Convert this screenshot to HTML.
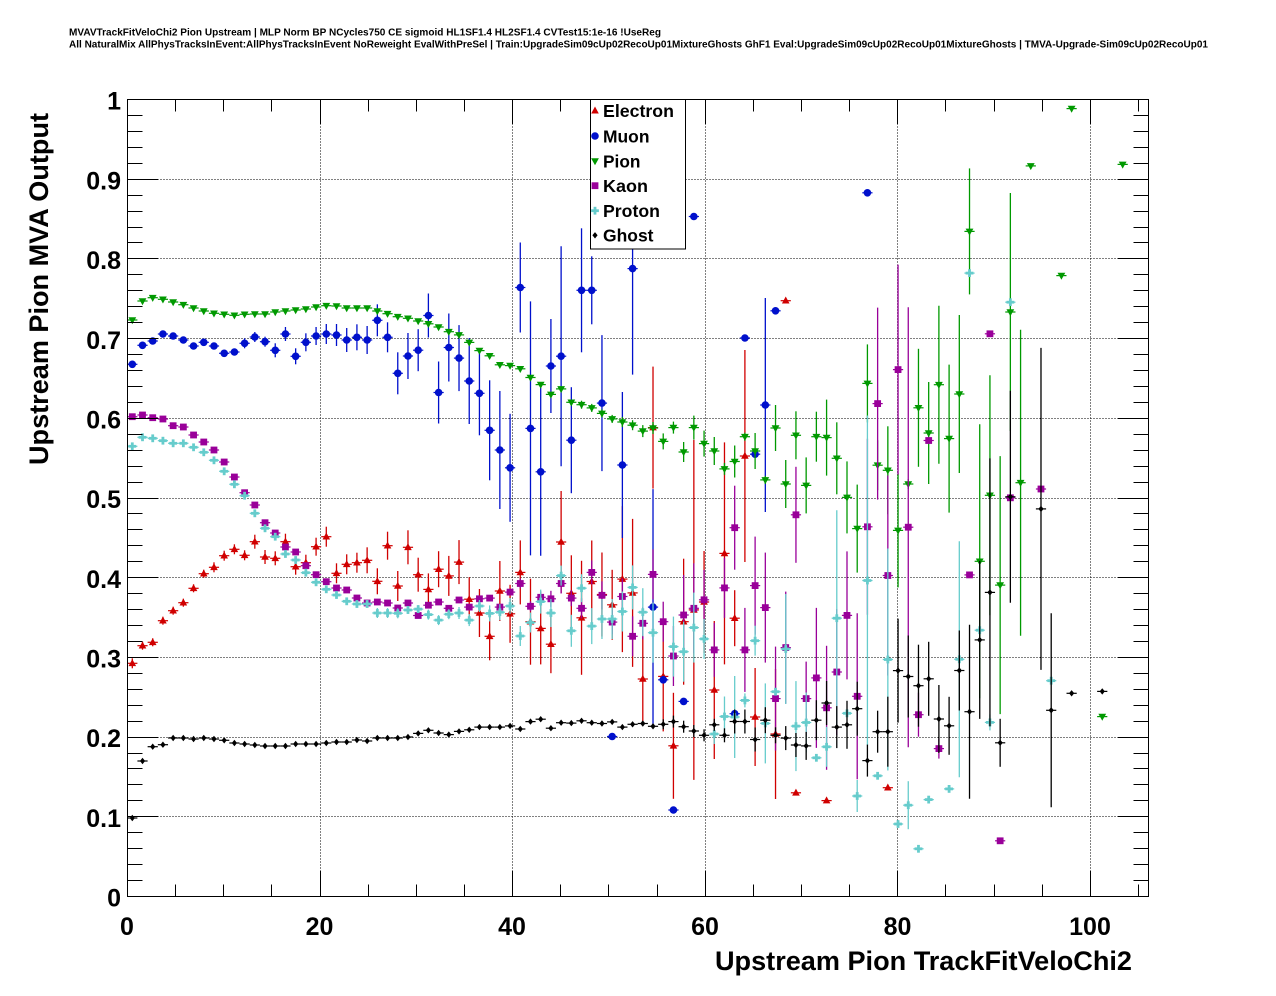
<!DOCTYPE html>
<html><head><meta charset="utf-8">
<style>
html,body{margin:0;padding:0;background:#fff;}
svg{display:block;font-family:"Liberation Sans",Arial,Helvetica,sans-serif;font-weight:bold;}
</style>
</head><body>
<svg id="c" width="1276" height="996" viewBox="0 0 1276 996" xmlns="http://www.w3.org/2000/svg">
<rect x="0" y="0" width="1276" height="996" fill="#fff"/>
<text x="69" y="35.5" font-size="10" textLength="592" lengthAdjust="spacingAndGlyphs">MVAVTrackFitVeloChi2 Pion Upstream | MLP Norm BP NCycles750 CE sigmoid HL1SF1.4 HL2SF1.4 CVTest15:1e-16 !UseReg</text>
<text x="69" y="47.5" font-size="10" textLength="1139" lengthAdjust="spacingAndGlyphs">All NaturalMix AllPhysTracksInEvent:AllPhysTracksInEvent NoReweight EvalWithPreSel | Train:UpgradeSim09cUp02RecoUp01MixtureGhosts GhF1 Eval:UpgradeSim09cUp02RecoUp01MixtureGhosts | TMVA-Upgrade-Sim09cUp02RecoUp01</text>
<g id="grid"></g>
<g id="data"></g>
<g id="axes"></g>
<g font-size="25" text-anchor="end">
<text x="121" y="109.5">1</text>
<text x="121" y="189.5">0.9</text>
<text x="121" y="269">0.8</text>
<text x="121" y="349">0.7</text>
<text x="121" y="428.5">0.6</text>
<text x="121" y="508">0.5</text>
<text x="121" y="588">0.4</text>
<text x="121" y="667.5">0.3</text>
<text x="121" y="747">0.2</text>
<text x="121" y="827">0.1</text>
<text x="121" y="906.5">0</text>
</g>
<g font-size="25" text-anchor="middle">
<text x="127" y="935">0</text>
<text x="319.5" y="935">20</text>
<text x="512" y="935">40</text>
<text x="705" y="935">60</text>
<text x="897.5" y="935">80</text>
<text x="1090" y="935">100</text>
</g>
<text x="1132" y="970" font-size="27" text-anchor="end" textLength="417" lengthAdjust="spacingAndGlyphs">Upstream Pion TrackFitVeloChi2</text>
<text transform="translate(48,113) rotate(-90)" font-size="27" text-anchor="end" textLength="352" lengthAdjust="spacingAndGlyphs">Upstream Pion MVA Output</text>
<g id="legend">
<rect x="590.5" y="99.5" width="95" height="149.5" fill="#fff" stroke="#000" stroke-width="1"/>
<g font-size="17.5">
<text x="603" y="117" textLength="71" lengthAdjust="spacingAndGlyphs">Electron</text>
<text x="603" y="142.3" textLength="46.5" lengthAdjust="spacingAndGlyphs">Muon</text>
<text x="603" y="167.3" textLength="37.5" lengthAdjust="spacingAndGlyphs">Pion</text>
<text x="603" y="192" textLength="45" lengthAdjust="spacingAndGlyphs">Kaon</text>
<text x="603" y="217" textLength="57" lengthAdjust="spacingAndGlyphs">Proton</text>
<text x="603" y="241.7" textLength="50.5" lengthAdjust="spacingAndGlyphs">Ghost</text>
</g>
<g id="legm"></g>
</g>
</svg>
<script>
(function(){
var NS='http://www.w3.org/2000/svg';
function el(t,a,p){var e=document.createElementNS(NS,t);for(var k in a)e.setAttribute(k,a[k]);p.appendChild(e);return e;}
var X0=127.5,XS=9.628,Y0=896.5,YS=797,XL=127.5,XR=1148.5,YT=99.5,YB=896.5;
function px(v){return X0+v*XS;}
function py(v){return Y0-v*YS;}
function r5(v){return Math.round(v-0.5)+0.5;}
var g=document.getElementById('grid');
var dot={stroke:'#000','stroke-width':1,'stroke-dasharray':'1,2',fill:'none'};
function ext(a,b){var o={};for(var k in a)o[k]=a[k];for(var k2 in b)o[k2]=b[k2];return o;}
for(var v=20;v<=100;v+=20){var x=r5(px(v));el('line',ext(dot,{x1:x,x2:x,y1:YT,y2:YB}),g);}
for(var k=1;k<=9;k++){var y=r5(py(k/10));el('line',ext(dot,{x1:XL,x2:XR,y1:y,y2:y}),g);}
var ax=document.getElementById('axes');
var sl={stroke:'#000','stroke-width':1};
for(var k=0;k<=50;k++){var y=r5(py(k*0.02));var L=(k%5==0)?31:15;
 el('line',ext(sl,{x1:XL,x2:XL+L,y1:y,y2:y}),ax);
 el('line',ext(sl,{x1:XR,x2:XR-L,y1:y,y2:y}),ax);}
for(var k=0;k*5<=106;k++){var x=r5(px(k*5));var L=(k%4==0)?25:12;
 el('line',ext(sl,{x1:x,x2:x,y1:YB,y2:YB-L}),ax);
 el('line',ext(sl,{x1:x,x2:x,y1:YT,y2:YT+L}),ax);}
el('rect',{x:XL,y:YT,width:XR-XL,height:YB-YT,fill:'none',stroke:'#000','stroke-width':1},ax);

function xi(i){return 132.3+10.21*i;}
function marker(type,x,y,c,p){
 if(type=='tu'){el('polygon',{points:(x)+','+(y-4.2)+' '+(x-3.8)+','+(y+2.8)+' '+(x+3.8)+','+(y+2.8),fill:c},p);}
 else if(type=='td'){el('polygon',{points:(x)+','+(y+4.2)+' '+(x-3.9)+','+(y-2.8)+' '+(x+3.9)+','+(y-2.8),fill:c},p);}
 else if(type=='c'){el('circle',{cx:x,cy:y,r:3.8,fill:c},p);}
 else if(type=='s'){el('rect',{x:x-3.4,y:y-3.4,width:6.8,height:6.8,fill:c},p);}
 else if(type=='x'){el('rect',{x:x-3.9,y:y-1.4,width:7.8,height:2.8,fill:c},p);el('rect',{x:x-1.4,y:y-3.9,width:2.8,height:7.8,fill:c},p);}
 else if(type=='d'){el('polygon',{points:x+','+(y-3.2)+' '+(x+2.6)+','+y+' '+x+','+(y+3.2)+' '+(x-2.6)+','+y,fill:c},p);}
}
var series=[
{t:'tu',c:'#d00000',d:[[0,663.3,5],[1,645.7,4],[2,642.3,4],[3,620.7,4],[4,610.7,4],[5,602.7,4],[6,588.3,4],[7,573.7,4],[8,567.3,5],[9,555.7,5],[10,549.3,5],[11,555.3,5],[12,541.7,7],[13,557,7],[14,558.3,7],[15,541.7,8],[16,566.7,8],[17,562.7,8],[18,546.7,9],[19,536.7,10],[20,573.3,10],[21,564.3,10],[22,562.7,10],[23,560.3,13],[24,581.3,13],[25,545.7,14],[26,586,15],[27,547.3,17],[28,574.7,17],[29,589.4,16],[30,569.2,18],[31,575.9,20],[32,562.1,22],[33,599.2,22],[34,613,24],[35,636.3,24],[36,591,30],[37,613.8,29],[38,572.4,32],[39,621.7,43],[40,628.4,36],[41,644.2,29],[42,542,51],[43,593.3,38],[44,617.8,57],[45,581.5,41],[46,594.5,42],[47,604.8,35],[48,579.1,73],[49,592.9,74],[50,679,44],[51,427.6,61],[52,676.4,55],[53,745.8,53],[54,621.7,63],[55,609.9,170],[56,602,51],[57,690,69],[58,553.4,111],[59,618.2,28],[60,456,106],[61,717,49],[63,734,65],[64,300.7,0],[65,792.8,0],[68,800.6,0],[74,787.7,0]]},
{t:'c',c:'#0010cc',d:[[0,364.3,3],[1,345.3,0],[2,341,0],[3,334,0],[4,336,0],[5,340,0],[6,346,0],[7,342.3,0],[8,346,0],[9,353.3,0],[10,352,0],[11,343.3,5],[12,337,5],[13,341.7,5],[14,350.3,7],[15,334,7],[16,356.3,8],[17,342.3,9],[18,336,9],[19,334,10],[20,335,11],[21,340,12],[22,337.3,13],[23,340,14],[24,320.3,16],[25,337.3,15],[26,373.3,21],[27,356,23],[28,350.2,21],[29,315.5,22],[30,392.5,31],[31,347.5,34],[32,358.1,33],[33,381,43],[34,393.3,42],[35,430.3,50],[36,450,59],[37,467.8,54],[38,287.5,45],[39,428.4,127],[40,471.8,84],[41,366,47],[42,356.2,110],[43,440.2,53],[44,290.3,62],[45,290.3,34],[46,403.1,68],[47,736.5,0],[48,465,73],[49,268.6,106],[51,607.1,118],[52,679.8,0],[53,810,0],[54,701.4,0],[55,216.5,0],[59,713.7,0],[60,338,0],[61,454.2,0],[62,405,107],[63,310.8,0],[72,192.8,0]]},
{t:'td',c:'#009900',d:[[0,320],[1,301],[2,297.7],[3,299.3],[4,302],[5,304.7],[6,308],[7,311],[8,313.3],[9,314.3],[10,315.3],[11,314.3],[12,314],[13,314],[14,312],[15,311],[16,310],[17,309],[18,307],[19,305.7],[20,306],[21,308],[22,308],[23,308],[24,311],[25,313.7],[26,316.7],[27,318.3],[28,321],[29,323.8],[30,327],[31,331.7],[32,334.9],[33,342.4],[34,350.6],[35,355.8],[36,364.8],[37,365.6],[38,368.8],[39,377.5],[40,384.6],[41,394.4],[42,388.9],[43,402.3,3],[44,404.7,4],[45,407.9,4],[46,413.4,4],[47,418.9,4],[48,422,5],[49,425.2,5],[50,431.1,6],[51,428,6],[52,441.4,8],[53,427.6,6],[54,452,10],[55,427.6,12],[56,443.6,13],[57,451,14],[58,468.9,6],[59,461.5,16],[60,436.7,4],[61,451,18],[62,479.9,4],[63,428,23],[64,484,24],[65,435.3,24],[66,485.4,28],[67,436.7,25],[68,437.6,38],[69,458.3,36],[70,497.4,36],[71,528.6,44],[72,383.4,39],[73,465.2,25],[74,470.3,44],[75,530.4,57],[76,484,5],[77,407.8,59],[78,433,51],[79,384.7,79],[80,438.6,74],[81,394,79],[82,231.4,63],[83,561.3,137],[84,495.3,120],[85,585.1,129],[86,312,119],[87,482.7,153],[88,165.9,0],[91,275.6,0],[92,108.6,0],[95,716.6,0],[97,164.4,0]]},
{t:'s',c:'#990099',d:[[0,416.7],[1,415],[2,417.7],[3,419],[4,425.7],[5,427],[6,435],[7,442],[8,450],[9,462],[10,477],[11,492.7],[12,505],[13,522.7],[14,533],[15,547],[16,552],[17,565.7],[18,574.7],[19,581.7],[20,588],[21,590],[22,598],[23,603],[24,602],[25,603],[26,608],[27,603],[28,615.5],[29,605.2],[30,602],[31,608.3],[32,600],[33,607.1],[34,598.8],[35,598.1],[36,607.1],[37,592.1],[38,583.5,5],[39,606.3,5],[40,597.3,6],[41,598.8,8],[42,583.5,10],[43,598.1,8],[44,608.3,10],[45,572.4,12],[46,595.3,14],[47,622.1,12],[48,596.5,18],[49,636.3,20],[50,623.3,16],[51,574.4,25],[52,621.7,20],[53,656,30],[54,615,40],[55,608.3,45],[56,599.8,30],[57,649.9,27],[58,587.9,30],[59,527.7,42],[60,649.9,42],[61,585.6,49],[62,607.6,55],[63,698.6,52],[64,647.6,56],[65,514.8,48],[66,698.6,37],[67,677.9,70],[68,707.8,62],[69,672,63],[70,615.4,64],[71,696.3,83],[72,526.8,88],[73,403.6,96],[74,575.5,100],[75,369.6,105],[76,527.2,220],[77,714.7,22],[78,440.5,0],[79,748.6,10],[82,574.9,0],[84,333.8,0],[85,840.8,0],[86,497.8,0],[89,489,0]]},
{t:'x',c:'#66cccc',d:[[0,446.3],[1,437.3],[2,438.3],[3,440.7],[4,443.3],[5,443.3],[6,447.3],[7,452.3],[8,460.3],[9,471.3],[10,484.3],[11,495.7],[12,513.3],[13,528.3],[14,536.7],[15,554],[16,560],[17,572.7],[18,582.3],[19,589.3],[20,595],[21,601.3],[22,604],[23,604],[24,613,5],[25,613,5],[26,613.3,5],[27,610,4],[28,609.1,4],[29,614.6,5],[30,620.1,5],[31,614.2,5],[32,613,6],[33,620.1,6],[34,606,6],[35,613.4,8],[36,612.2,8],[37,606,8],[38,636,10],[39,622.5,10],[40,601.6,12],[41,613,14],[42,575.6,10],[43,630.8,16],[44,588.2,14],[45,626.1,18],[46,619,20],[47,619,20],[48,611.5,20],[49,587.4,22],[50,612.2,24],[51,632.7,30],[53,646.6,30],[54,651.7,30],[55,627.6,35],[56,638.9,20],[57,734,10],[58,716.5,20],[59,717,41],[60,700.4,7],[61,640.7,15],[62,723.4,40],[63,691.7,0],[64,649,55],[65,726.1,45],[66,722.5,30],[67,757.8,0],[68,746.8,20],[69,618.2,108],[70,713.3,0],[71,796,16],[72,580.5,165],[73,775.8,0],[74,659.5,111],[75,824,0],[76,805.2,24],[77,848.8,0],[78,799.6,0],[80,788.9,0],[81,659.3,118],[82,273.1,0],[83,630.2,0],[84,722.4,8],[86,302.2,0],[90,680.7,0]]},
{t:'d',c:'#000000',d:[[0,818],[1,761],[2,746.7],[3,744.7],[4,738],[5,738],[6,739],[7,738],[8,739],[9,740.3],[10,743],[11,744],[12,745],[13,746],[14,746],[15,746],[16,744],[17,744],[18,744],[19,743],[20,742],[21,742],[22,740],[23,741],[24,738],[25,738],[26,738],[27,737],[28,733.4],[29,730.3],[30,733],[31,734.6],[32,731.4],[33,729.8],[34,727.1],[35,727.1],[36,727.1],[37,725.9],[38,729],[39,721.6],[40,719.2],[41,728.2],[42,722.7],[43,723.1],[44,720.8],[45,722.7],[46,723.5],[47,721.9],[48,727.1],[49,724.3],[50,723.5],[51,726.3],[52,724.3,5],[53,721.6,6],[54,726.7,6],[55,731,6],[56,735.3,6],[57,724.8,6],[58,735.3,7],[59,721.5,12],[60,721.5,12],[61,739.5,12],[62,720.2,13],[63,735.3,8],[64,738.1,12],[65,745,12],[66,745.9,14],[67,720.2,20],[68,703,22],[69,727.1,21],[70,724.8,24],[71,708.7,27],[72,760.6,16],[73,731.7,21],[74,731.7,35],[75,670.6,52],[76,676.5,41],[77,685.7,41],[78,678.8,37],[79,719,34],[80,725.8,29],[81,670.5,40],[82,711.7,87],[83,639.9,79],[84,592.4,134],[85,742.8,24],[86,496.8,106],[89,508.9,161],[90,710.3,97],[92,693.3,0],[95,691.4,0]]}
];
var dg=document.getElementById('data');
for(var s=0;s<series.length;s++){
 var S=series[s];var grp=el('g',{},dg);
 for(var j=0;j<S.d.length;j++){
  var p=S.d[j];var x=xi(p[0]);var y=p[1];var e=p[2]||0;
  el('line',{x1:x-5.1,x2:x+5.1,y1:y,y2:y,stroke:S.c,'stroke-width':1.2},grp);
  if(e>3.5){var y1=Math.max(y-e,YT);var y2=Math.min(y+e,YB);el('line',{x1:x,x2:x,y1:y1,y2:y2,stroke:S.c,'stroke-width':1.3},grp);}
  marker(S.t,x,y,S.c,grp);
 }
}
var lm=document.getElementById('legm');
var ly=[110.7,136,161,185.7,210.7,235.3];
for(var s=0;s<series.length;s++){marker(series[s].t,595,ly[s],series[s].c,lm);}
})();
</script>
</body></html>
